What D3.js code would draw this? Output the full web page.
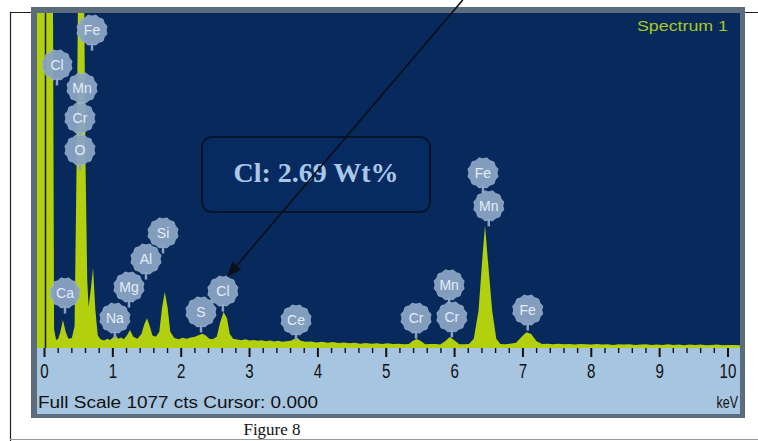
<!DOCTYPE html>
<html><head><meta charset="utf-8">
<script src="https://cdn.jsdelivr.net/npm/d3@7/dist/d3.min.js"></script>
<style>html,body{margin:0;padding:0;background:#fff;}svg{display:block;}</style>
</head><body>
<svg id="c" width="758" height="441"></svg>
<script>
// ---------- DATA ----------
const spectrumKeV = [-0.11,0.12,0.14,0.17,0.20,0.23,0.27,0.31,0.35,0.40,0.44,0.47,0.50,0.57,0.60,0.625,0.645,0.67,0.71,0.745,0.78,0.82,0.87,0.92,0.96,1.00,1.04,1.08,1.12,1.16,1.21,1.25,1.30,1.36,1.42,1.46,1.50,1.54,1.58,1.63,1.68,1.72,1.76,1.80,1.84,1.90,1.96,2.02,2.08,2.14,2.20,2.26,2.31,2.36,2.41,2.46,2.52,2.57,2.62,2.67,2.71,2.76,2.82,2.88,2.94,3.00,3.06,3.12,3.18,3.24,3.30,3.36,3.42,3.48,3.54,3.60,3.66,3.70,3.75,3.82,3.90,3.98,4.06,4.14,4.22,4.30,4.38,4.46,4.54,4.62,4.70,4.78,4.86,4.94,5.02,5.10,5.18,5.26,5.33,5.39,5.45,5.51,5.57,5.64,5.72,5.79,5.86,5.93,6.00,6.07,6.14,6.21,6.28,6.35,6.41,6.445,6.48,6.55,6.61,6.67,6.74,6.81,6.90,6.98,7.05,7.12,7.20,7.28,7.36,7.44,7.52,7.60,7.68,7.76,7.84,7.92,8.00,8.08,8.16,8.24,8.32,8.40,8.48,8.56,8.64,8.72,8.80,8.88,8.96,9.04,9.12,9.20,9.28,9.36,9.44,9.52,9.60,9.68,9.76,9.84,9.92,10.00,10.10,10.20];
const spectrumCts = [1400,1400,60,26,30,50,90,52,30,32,70,600,1400,1400,600,220,132,175,257,120,40,28,24,30,26,34,42,30,34,28,42,58,36,30,46,76,96,70,40,36,52,130,180,132,52,32,28,33,30,34,36,42,46,40,30,28,36,82,116,96,46,30,27,25,28,24,26,23,25,22,24,21,23,20,22,23,30,32,23,20,21,18,20,17,19,16,18,15,17,14,16,14,15,13,15,13,14,12,13,23,29,22,12,13,13,11,22,35,24,12,12,13,30,120,300,395,300,120,30,13,12,14,17,36,51,45,22,13,14,12,14,12,13,11,13,12,11,13,11,12,10,12,11,12,10,11,12,10,11,10,12,10,11,9,11,10,11,9,10,11,9,10,10,9];

const peakLabels = ["Fe","Cl","Mn","Cr","O","Ca","Na","Mg","Al","Si","S","Cl","Ce","Cr","Mn","Cr","Fe","Mn","Fe"];
const labelKeV   = [0.695,0.183,0.549,0.519,0.519,0.30,1.03,1.236,1.485,1.734,2.29,2.61,3.68,5.436,5.92,5.96,6.415,6.50,7.07];
const labelCts   = [1022,910,836,739,637,177,96,196,286,370,116,183,90,96,203,100,563,457,122];

const tickValues = [0,1,2,3,4,5,6,7,8,9,10];
const tickLabels = ["0","1","2","3","4","5","6","7","8","9","10"];
const fullScaleCts = 1077;
const infoText = "Full Scale 1077 cts Cursor: 0.000";
const unitText = "keV";
const spectrumTitle = "Spectrum 1";
const captionText = "Figure 8";
const boxText = "Cl: 2.69 Wt%";
const boxKeV = [2.305, 5.64];      // left / right of annotation box
const boxCts = [678, 437];         // top / bottom of annotation box
const arrowFrom = [6.12, 1119];
const arrowTo = [2.67, 228];
const cursorKeV = 0.0;

// ---------- LAYOUT ----------
const svg = d3.select("#c");
const plot = {left:37, right:740, top:13, bottom:348};
const x = d3.scaleLinear().domain([0,10]).range([44.5,728]);
const y = d3.scaleLinear().domain([0,fullScaleCts]).range([plot.bottom, plot.top]);
const SANS = "Liberation Sans, Arial, sans-serif";

// outer figure border
svg.append("line").attr("x1",10).attr("x2",758).attr("y1",12.5).attr("y2",12.5).attr("stroke","#222").attr("stroke-width",1);
svg.append("line").attr("x1",10.5).attr("x2",10.5).attr("y1",12).attr("y2",441).attr("stroke","#222").attr("stroke-width",1.2);
svg.append("line").attr("x1",10).attr("x2",758).attr("y1",439.5).attr("y2",439.5).attr("stroke","#9a9a9a").attr("stroke-width",1);

// gray frame
svg.append("rect").attr("x",31).attr("y",7).attr("width",714).attr("height",411).attr("fill","#5b6c7c");
// plot area
svg.append("rect").attr("x",plot.left).attr("y",plot.top).attr("width",plot.right-plot.left).attr("height",plot.bottom-plot.top).attr("fill","#08295c");
// axis band
svg.append("rect").attr("x",plot.left).attr("y",plot.bottom).attr("width",plot.right-plot.left).attr("height",414-plot.bottom).attr("fill","#a6c5e0");

svg.append("clipPath").attr("id","pc").append("rect")
  .attr("x",plot.left).attr("y",plot.top).attr("width",plot.right-plot.left).attr("height",plot.bottom-plot.top);

// spectrum
const pts = spectrumKeV.map((k,i)=>[k,spectrumCts[i]]);
const area = d3.area().x(d=>x(d[0])).y0(y(0)).y1(d=>y(d[1])).curve(d3.curveLinear);
svg.append("path").attr("clip-path","url(#pc)").datum(pts).attr("d",area).attr("fill","#b3d00e");

// cursor line
svg.append("line").attr("x1",x(cursorKeV)+1).attr("x2",x(cursorKeV)+1).attr("y1",plot.top).attr("y2",plot.bottom)
  .attr("stroke","#0b1a33").attr("stroke-width",1.5);

// "Spectrum 1"
svg.append("text").attr("x",728).attr("y",31).attr("text-anchor","end")
  .attr("font-family",SANS).attr("font-size",14)
  .attr("textLength",91).attr("lengthAdjust","spacingAndGlyphs")
  .attr("fill","#a9c81e").text(spectrumTitle);

// badges
const R = 14.5;
const scallop = d3.lineRadial().curve(d3.curveCardinalClosed)
  .angle(d=>d).radius((d,i)=> R + (i%2 ? 0.9 : -0.4));
const angles = d3.range(0, 2*Math.PI, Math.PI/12);
const badges = svg.append("g");
peakLabels.forEach((lab,i)=>{
  const g = badges.append("g").attr("transform",`translate(${x(labelKeV[i])},${y(labelCts[i])})`);
  g.append("line").attr("x1",0).attr("x2",0).attr("y1",R-2).attr("y2",R+6)
    .attr("stroke","#8aa3c3").attr("stroke-width",2.5);
  g.append("path").attr("d",scallop(angles)).attr("fill","#8aa3c3").attr("fill-opacity",0.95)
    .attr("stroke","#9db4d0").attr("stroke-width",0.8);
  g.append("text").attr("y",5).attr("text-anchor","middle")
    .attr("font-family",SANS).attr("font-size",14)
    .attr("fill","#e3ecf7").text(lab);
});

// annotation box
const bx0 = x(boxKeV[0]), bx1 = x(boxKeV[1]), by0 = y(boxCts[0]), by1 = y(boxCts[1]);
svg.append("rect").attr("x",bx0).attr("y",by0).attr("width",bx1-bx0).attr("height",by1-by0)
  .attr("rx",10).attr("fill","#072b61").attr("stroke","#04142e").attr("stroke-width",2);
svg.append("text").attr("x",(bx0+bx1)/2).attr("y",by0+45).attr("text-anchor","middle")
  .attr("font-family","Liberation Serif, Times New Roman, serif").attr("font-weight","bold")
  .attr("font-size",28).attr("fill","#a9c7e7").text(boxText);

// ticks
const minor = d3.range(0, 10.001, 0.2);
svg.append("g").selectAll("line").data(minor).join("line")
  .attr("x1",d=>x(d)).attr("x2",d=>x(d)).attr("y1",plot.bottom)
  .attr("y2",d=> Math.abs(d-Math.round(d))<1e-6 ? plot.bottom+9 : plot.bottom+5)
  .attr("stroke","#111").attr("stroke-width",d=> Math.abs(d-Math.round(d))<1e-6 ? 2 : 1.4);
svg.append("g").selectAll("text").data(tickValues).join("text")
  .attr("transform",d=>`translate(${x(d)},378) scale(0.72,1)`).attr("text-anchor","middle")
  .attr("font-family",SANS).attr("font-size",21)
  .attr("fill","#111").text((d,i)=>tickLabels[i]);

svg.append("text").attr("x",38).attr("y",408)
  .attr("font-family",SANS).attr("font-size",16)
  .attr("textLength",280).attr("lengthAdjust","spacingAndGlyphs")
  .attr("fill","#111").text(infoText);
svg.append("text").attr("transform","translate(738,408) scale(0.78,1)").attr("text-anchor","end")
  .attr("font-family",SANS).attr("font-size",16)
  .attr("fill","#111").text(unitText);

// caption
svg.append("text").attr("x",272).attr("y",435).attr("text-anchor","middle")
  .attr("font-family","Liberation Serif, Times New Roman, serif").attr("font-size",17)
  .attr("fill","#111").text(captionText);

// arrow
const ax0 = x(arrowFrom[0]), ay0 = y(arrowFrom[1]), ax1 = x(arrowTo[0]), ay1 = y(arrowTo[1]);
const ang = Math.atan2(ay1-ay0, ax1-ax0);
const hl = 15, hw = 6;
svg.append("line").attr("x1",ax0).attr("y1",ay0)
  .attr("x2",ax1 - Math.cos(ang)*hl*0.8).attr("y2",ay1 - Math.sin(ang)*hl*0.8)
  .attr("stroke","#0a0f1a").attr("stroke-width",1.6);
const bxh = ax1 - Math.cos(ang)*hl, byh = ay1 - Math.sin(ang)*hl;
svg.append("path").attr("d",`M${ax1},${ay1}L${bxh - Math.sin(ang)*hw},${byh + Math.cos(ang)*hw}L${bxh + Math.sin(ang)*hw},${byh - Math.cos(ang)*hw}Z`)
  .attr("fill","#0a0f1a");
</script>
</body></html>
